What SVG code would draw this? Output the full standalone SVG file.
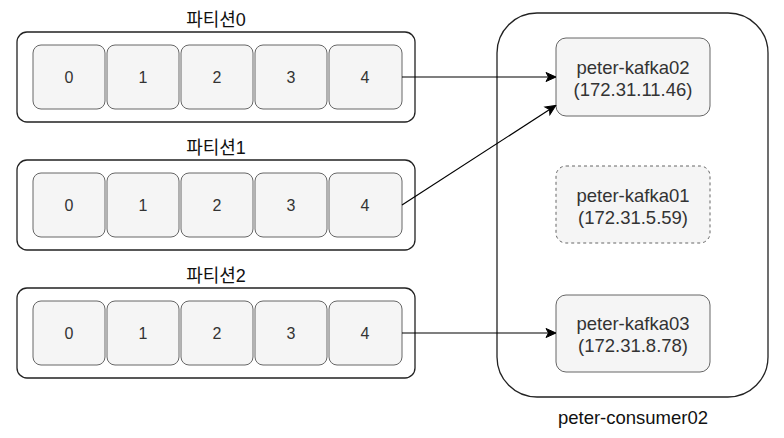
<svg xmlns="http://www.w3.org/2000/svg" width="784" height="438" viewBox="0 0 784 438">
<style>
.outer{fill:#fff;stroke:#222;stroke-width:1.3}
.cell{fill:#f5f5f5;stroke:#666;stroke-width:1}
.kafka{fill:#f5f5f5;stroke:#666;stroke-width:1}
.dash{stroke-dasharray:3 3}
.t{font-family:"Liberation Sans",Arial,sans-serif;font-size:16px;fill:#333;text-anchor:middle;dominant-baseline:central}
.k{font-size:18.5px}
.lbl{font-family:"Liberation Sans","Noto Sans CJK KR",sans-serif;font-size:18px;fill:#111;text-anchor:middle;dominant-baseline:central}
.conn{stroke:#000;stroke-width:1.2;fill:none}
</style>
<defs>
<marker id="arr" markerWidth="12" markerHeight="12" refX="10" refY="6" orient="auto" markerUnits="userSpaceOnUse">
<path d="M1,1.5 L11,6 L1,10.5 L3.5,6 Z" fill="#000" stroke="#000"/>
</marker>
</defs>
<rect width="784" height="438" fill="#fff"/>
<g id="consumer">
<rect class="outer" x="497" y="13" width="271" height="384" rx="40"/>
<text class="t k" x="633" y="417" style="fill:#111">peter-consumer02</text>
</g>
<g id="partition0">
<text class="lbl" x="216" y="20">파티션0</text>
<rect class="outer" x="17" y="32" width="398" height="90" rx="10"/>
<rect class="cell" x="33" y="45" width="72" height="64" rx="8"/><text class="t" x="69" y="77">0</text>
<rect class="cell" x="107" y="45" width="72" height="64" rx="8"/><text class="t" x="143" y="77">1</text>
<rect class="cell" x="181" y="45" width="72" height="64" rx="8"/><text class="t" x="217" y="77">2</text>
<rect class="cell" x="255" y="45" width="72" height="64" rx="8"/><text class="t" x="291" y="77">3</text>
<rect class="cell" x="329" y="45" width="73" height="64" rx="8"/><text class="t" x="365" y="77">4</text>
</g>
<g id="partition1">
<text class="lbl" x="216" y="148">파티션1</text>
<rect class="outer" x="17" y="160" width="398" height="90" rx="10"/>
<rect class="cell" x="33" y="173" width="72" height="64" rx="8"/><text class="t" x="69" y="205">0</text>
<rect class="cell" x="107" y="173" width="72" height="64" rx="8"/><text class="t" x="143" y="205">1</text>
<rect class="cell" x="181" y="173" width="72" height="64" rx="8"/><text class="t" x="217" y="205">2</text>
<rect class="cell" x="255" y="173" width="72" height="64" rx="8"/><text class="t" x="291" y="205">3</text>
<rect class="cell" x="329" y="173" width="73" height="64" rx="8"/><text class="t" x="365" y="205">4</text>
</g>
<g id="partition2">
<text class="lbl" x="216" y="276">파티션2</text>
<rect class="outer" x="17" y="288" width="398" height="90" rx="10"/>
<rect class="cell" x="33" y="301" width="72" height="64" rx="8"/><text class="t" x="69" y="333">0</text>
<rect class="cell" x="107" y="301" width="72" height="64" rx="8"/><text class="t" x="143" y="333">1</text>
<rect class="cell" x="181" y="301" width="72" height="64" rx="8"/><text class="t" x="217" y="333">2</text>
<rect class="cell" x="255" y="301" width="72" height="64" rx="8"/><text class="t" x="291" y="333">3</text>
<rect class="cell" x="329" y="301" width="73" height="64" rx="8"/><text class="t" x="365" y="333">4</text>
</g>
<g id="kafka02">
<rect class="kafka" x="556" y="38" width="154" height="78" rx="10"/>
<text class="t k" x="633" y="67">peter-kafka02</text>
<text class="t k" x="633" y="89">(172.31.11.46)</text>
</g>
<g id="kafka01">
<rect class="kafka dash" x="556" y="166" width="154" height="77" rx="10"/>
<text class="t k" x="633" y="195">peter-kafka01</text>
<text class="t k" x="633" y="217">(172.31.5.59)</text>
</g>
<g id="kafka03">
<rect class="kafka" x="556" y="295" width="154" height="77" rx="10"/>
<text class="t k" x="633" y="323">peter-kafka03</text>
<text class="t k" x="633" y="345">(172.31.8.78)</text>
</g>
<g id="connectors">
<path class="conn" d="M402,77 L555,77" marker-end="url(#arr)"/>
<path class="conn" d="M402,205 L555,106" marker-end="url(#arr)"/>
<path class="conn" d="M402,333 L555,333" marker-end="url(#arr)"/>
</g>
</svg>
